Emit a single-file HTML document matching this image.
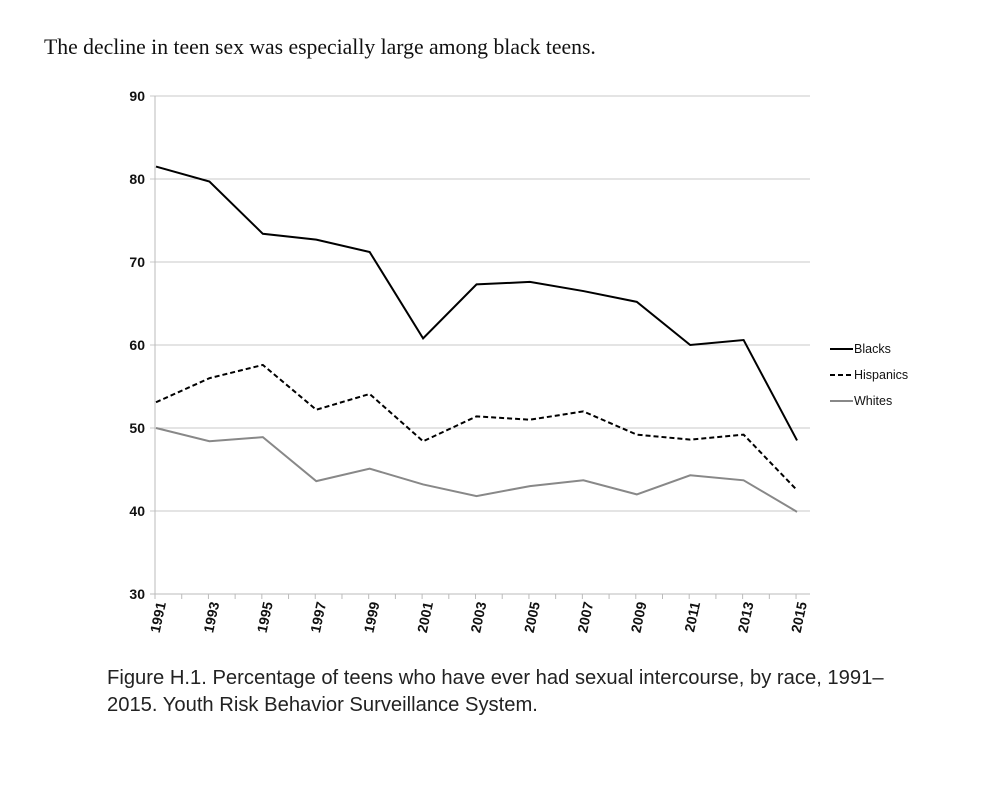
<!DOCTYPE html>
<html><head><meta charset="utf-8"><style>
body{margin:0;background:#fff;width:1000px;height:804px;overflow:hidden}
svg{display:block}
</style></head><body>
<svg width="1000" height="804">
<text x="44" y="54" font-family="Liberation Serif, serif" font-size="21.7" fill="#111">The decline in teen sex was especially large among black teens.</text>
<g id="grid"></g>
<g id="axes"></g>
<g id="series"></g>
<g font-family="Liberation Sans, sans-serif" font-size="12.5" fill="#111">
<line x1="830" y1="349" x2="853" y2="349" stroke="#000" stroke-width="2"/><text x="854" y="353">Blacks</text>
<line x1="830" y1="375" x2="853" y2="375" stroke="#000" stroke-width="2" stroke-dasharray="5,3"/><text x="854" y="379">Hispanics</text>
<line x1="830" y1="401" x2="853" y2="401" stroke="#888" stroke-width="2"/><text x="854" y="405">Whites</text>
</g>
<text x="107" y="684" font-family="Liberation Sans, sans-serif" font-size="20.2" fill="#222">Figure H.1. Percentage of teens who have ever had sexual intercourse, by race, 1991–</text>
<text x="107" y="711" font-family="Liberation Sans, sans-serif" font-size="20.2" fill="#222">2015. Youth Risk Behavior Surveillance System.</text>
</svg>
<script>
const years=[1991,1993,1995,1997,1999,2001,2003,2005,2007,2009,2011,2013,2015];
const blacks=[81.5,79.7,73.4,72.7,71.2,60.8,67.3,67.6,66.5,65.2,60.0,60.6,48.5];
const hispanics=[53.1,56.0,57.6,52.2,54.1,48.4,51.4,51.0,52.0,49.2,48.6,49.2,42.5];
const whites=[50.0,48.4,48.9,43.6,45.1,43.2,41.8,43.0,43.7,42.0,44.3,43.7,39.9];
const yTicks=[30,40,50,60,70,80,90];
const NS="http://www.w3.org/2000/svg";
const x=i=>156+i*53.42;
const y=v=>594-(v-30)*8.3;
function mk(tag,attrs,parent){const e=document.createElementNS(NS,tag);for(const k in attrs)e.setAttribute(k,attrs[k]);parent.appendChild(e);return e;}
const grid=document.getElementById('grid'),axes=document.getElementById('axes'),ser=document.getElementById('series');
yTicks.forEach(t=>{
 const l=mk('line',{x1:150,x2:810,y1:y(t),y2:y(t),stroke:t===30?'#bbb':'#c8c8c8','stroke-width':1},grid);
 
 
 const tx=mk('text',{x:145,y:y(t)+5,'text-anchor':'end','font-family':'Liberation Sans, sans-serif','font-size':14,'font-weight':'bold',fill:'#111'},axes);
 tx.textContent=t;
 
 
});
const ax=mk('line',{x1:155,x2:155,y1:96,y2:594,stroke:'#bbb'},axes);


for(let k=0;k<=24;k++){const t=mk('line',{x1:155+k*26.71,x2:155+k*26.71,y1:594,y2:599,stroke:'#bbb'},axes);
 
 }
years.forEach((yr,i)=>{
 const cx=x(i)+10,cy=603;
 const tx=mk('text',{x:cx,y:cy,transform:`rotate(-78 ${cx} ${cy})`,'text-anchor':'end','font-family':'Liberation Sans, sans-serif','font-size':14,'font-weight':'bold',fill:'#111'},axes);
 tx.textContent=yr;
 
 
});
function line(vals,stroke,dash,name){
 const p=mk('polyline',{points:vals.map((v,i)=>x(i)+','+y(v)).join(' '),fill:'none',stroke:stroke,'stroke-width':2,'stroke-dasharray':dash},ser);
 
 
}
line(whites,'#888','none','whites-line');
line(hispanics,'#000','5,3','hispanics-line');
line(blacks,'#000','none','blacks-line');
</script>
</body></html>
